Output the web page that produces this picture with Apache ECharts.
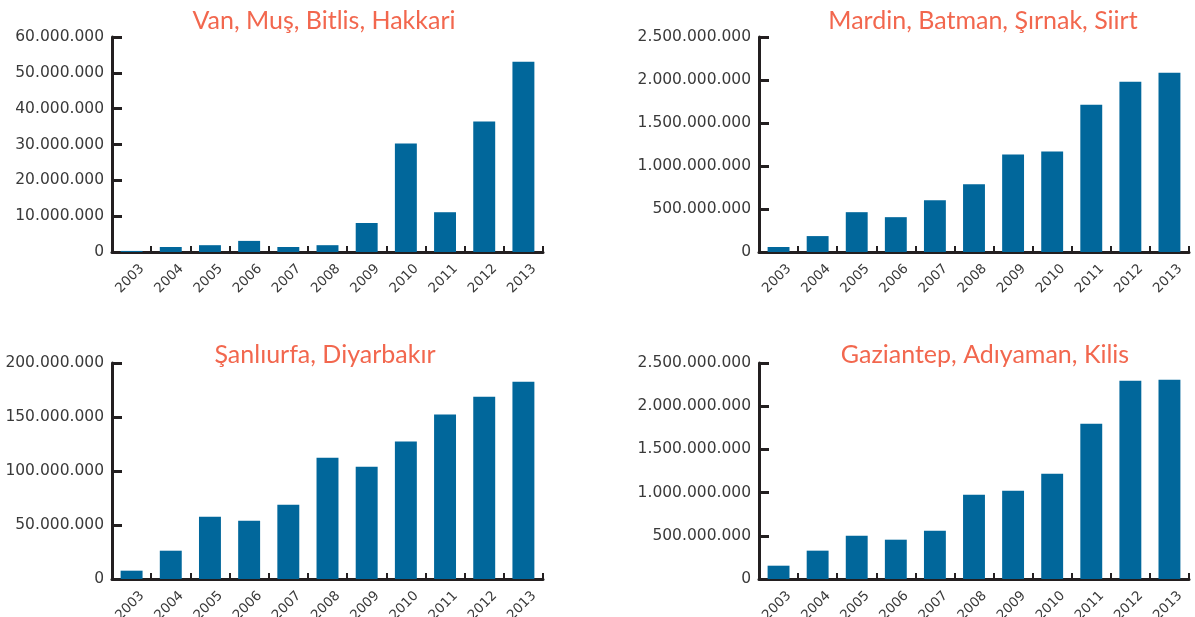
<!DOCTYPE html>
<html>
<head>
<meta charset="utf-8">
<script src="https://cdn.jsdelivr.net/npm/echarts@6/dist/echarts.min.js"></script>
<style>
  html, body { margin: 0; padding: 0; background: #fff; }
  #chart { width: 1195px; height: 617px; }
</style>
</head>
<body>
<div id="chart"></div>
<script>
// yıllar
var years = ['2003', '2004', '2005', '2006', '2007', '2008', '2009', '2010', '2011', '2012', '2013'];

// bölge başlıkları
var titles = ['Van, Muş, Bitlis, Hakkari', 'Mardin, Batman, Şırnak, Siirt', 'Şanlıurfa, Diyarbakır', 'Gaziantep, Adıyaman, Kilis'];

// değerler
var vanValues = [300000, 1400000, 1900000, 3100000, 1400000, 1900000, 8100000, 30300000, 11100000, 36400000, 53100000];
var mardinValues = [58000000, 185000000, 463000000, 405000000, 602000000, 787000000, 1134000000, 1169000000, 1713000000, 1979000000, 2083000000];
var sanliurfaValues = [7700000, 26200000, 57700000, 54000000, 68800000, 112300000, 104000000, 127200000, 152200000, 168800000, 182700000];
var gaziantepValues = [154000000, 328000000, 502000000, 455000000, 559000000, 976000000, 1022000000, 1219000000, 1798000000, 2295000000, 2307000000];

// eksen üst sınırları ve aralıkları
var axisMax = [60000000, 2500000000, 200000000, 2500000000];
var axisStep = [10000000, 500000000, 50000000, 500000000];

var allValues = [vanValues, mardinValues, sanliurfaValues, gaziantepValues];

var barColor = '#01679b';
var axisColor = '#231f20';
var labelColor = '#3a3a3a';
var titleColor = '#f2674e';

var grids = [
  { left: 112, top: 37, width: 431, height: 215 },
  { left: 759, top: 37, width: 430, height: 215 },
  { left: 112, top: 363, width: 431, height: 216 },
  { left: 759, top: 363, width: 430, height: 216 }
];
var titlePos = [
  { left: 319, top: 3 },
  { left: 978, top: 3 },
  { left: 320, top: 337 },
  { left: 980, top: 337 }
];

function dotFormat(v) {
  return String(v).replace(/\B(?=(\d{3})+(?!\d))/g, '.');
}

var chart = echarts.init(document.getElementById('chart'), null, { renderer: 'canvas' });

var option = {
  animation: false,
  title: [],
  grid: [],
  xAxis: [],
  yAxis: [],
  series: []
};

for (let i = 0; i < 4; i++) {
  option.title.push({
    text: titles[i],
    left: titlePos[i].left,
    top: titlePos[i].top,
    textAlign: 'center',
    textStyle: {
      color: titleColor,
      fontFamily: 'Lato',
      fontWeight: 'normal',
      fontSize: 25
    }
  });
  option.grid.push({
    left: grids[i].left,
    top: grids[i].top,
    width: grids[i].width,
    height: grids[i].height,
    containLabel: false,
    outerBoundsMode: 'none'
  });
  option.xAxis.push({
    type: 'category',
    gridIndex: i,
    data: years,
    axisLine: { lineStyle: { color: axisColor, width: 3 } },
    axisTick: {
      show: true,
      inside: true,
      length: 6,
      lineStyle: { color: axisColor, width: 2 }
    },
    axisLabel: {
      rotate: 45,
      margin: 4,
      verticalAlign: 'top',
      padding: [8, 0, 0, 0],
      color: labelColor,
      fontFamily: 'DejaVu Sans',
      fontSize: 13.5
    }
  });
  option.yAxis.push({
    type: 'value',
    gridIndex: i,
    min: 0,
    max: axisMax[i],
    interval: axisStep[i],
    splitLine: { show: false },
    axisLine: { show: true, lineStyle: { color: axisColor, width: 3 } },
    axisTick: {
      show: true,
      inside: true,
      length: 10,
      lineStyle: { color: axisColor, width: 3 }
    },
    axisLabel: {
      margin: 8,
      color: labelColor,
      fontFamily: 'DejaVu Sans',
      fontSize: 15.5,
      formatter: dotFormat
    }
  });
  option.series.push({
    type: 'bar',
    xAxisIndex: i,
    yAxisIndex: i,
    data: allValues[i],
    barCategoryGap: '44%',
    itemStyle: { color: barColor }
  });
}

chart.setOption(option);
</script>
</body>
</html>
